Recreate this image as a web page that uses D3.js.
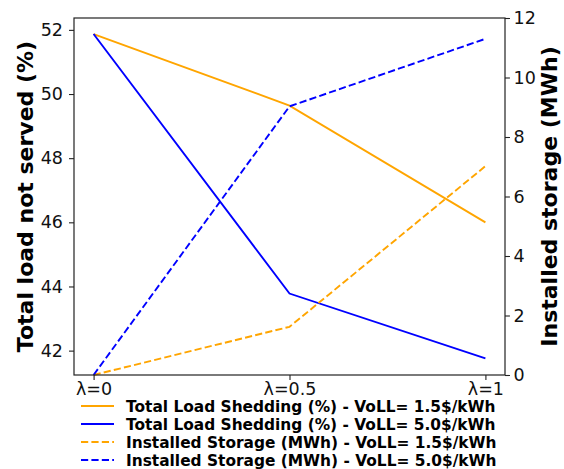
<!DOCTYPE html>
<html>
<head>
<meta charset="utf-8">
<script src="https://cdn.jsdelivr.net/npm/d3@7"></script>
<style>
    body { margin: 0; background: #fff; }
    text { font-family: "DejaVu Sans", sans-serif; }
</style>
</head>
<body>
<div id="chart"></div>
<script>
const lambdas = [0, 0.5, 1];
const tickLabels = ["λ=0", "λ=0.5", "λ=1"];
const shedLow = [51.87, 49.64, 46.0];
const shedHigh = [51.87, 43.78, 41.76];
const storLow = [0, 1.62, 7.02];
const storHigh = [0, 9.03, 11.3];
const leftTicks = [42, 44, 46, 48, 50, 52];
const rightTicks = [0, 2, 4, 6, 8, 10, 12];
const legendLabels = [
    "Total Load Shedding (%) - VoLL= 1.5$/kWh",
    "Total Load Shedding (%) - VoLL= 5.0$/kWh",
    "Installed Storage (MWh) - VoLL= 1.5$/kWh",
    "Installed Storage (MWh) - VoLL= 5.0$/kWh"
];

const W = 564, H = 469;
const margin = { top: 18, right: 59, bottom: 94, left: 74 },
    width = W - margin.left - margin.right,
    height = H - margin.top - margin.bottom;

const svg = d3.select("#chart")
    .append("svg")
    .attr("width", W)
    .attr("height", H);

const g = svg.append("g")
    .attr("transform", `translate(${margin.left},${margin.top})`);

const x = d3.scaleLinear().domain([-0.05, 1.05]).range([0, width]);
const yL = d3.scaleLinear().domain([41.24, 52.37]).range([height, 0]);
const yR = d3.scaleLinear().domain([0, 12]).range([height, 0]);

const series = [
    { vals: shedLow, scale: yL, color: "orange", dash: null },
    { vals: shedHigh, scale: yL, color: "blue", dash: null },
    { vals: storLow, scale: yR, color: "orange", dash: "7.2,3.2" },
    { vals: storHigh, scale: yR, color: "blue", dash: "7.2,3.2" }
];

series.forEach(s => {
    const line = d3.line()
        .x((d, i) => x(lambdas[i]))
        .y(d => s.scale(d));
    g.append("path")
        .datum(s.vals)
        .attr("d", line)
        .attr("fill", "none")
        .attr("stroke", s.color)
        .attr("stroke-width", 1.9)
        .attr("stroke-dasharray", s.dash);
});

// axes
const axisStyle = sel => {
    sel.select(".domain").remove();
    sel.selectAll(".tick line").attr("stroke", "#222").attr("stroke-width", 1.1);
    sel.selectAll(".tick text")
        .style("font-size", "17.5px")
        .attr("fill", "#111");
};

g.append("g")
    .attr("transform", `translate(0,${height})`)
    .call(d3.axisBottom(x).tickValues(lambdas).tickFormat((d, i) => tickLabels[i]).tickSize(5).tickPadding(3))
    .call(axisStyle);

g.append("g")
    .call(d3.axisLeft(yL).tickValues(leftTicks).tickFormat(d3.format("d")).tickSize(5).tickPadding(6))
    .call(axisStyle);

g.append("g")
    .attr("transform", `translate(${width},0)`)
    .call(d3.axisRight(yR).tickValues(rightTicks).tickFormat(d3.format("d")).tickSize(5).tickPadding(3.5))
    .call(axisStyle);

g.append("rect")
    .attr("width", width)
    .attr("height", height)
    .attr("fill", "none")
    .attr("stroke", "#222")
    .attr("stroke-width", 1.2);

// axis titles
svg.append("text")
    .attr("transform", `translate(33,${margin.top + height / 2}) rotate(-90)`)
    .attr("text-anchor", "middle")
    .style("font-size", "22px")
    .style("font-weight", "bold")
    .text("Total load not served (%)");

svg.append("text")
    .attr("transform", `translate(557,${margin.top + height / 2}) rotate(-90)`)
    .attr("text-anchor", "middle")
    .style("font-size", "22px")
    .style("font-weight", "bold")
    .text("Installed storage (MWh)");

// legend
const legend = svg.selectAll(".legend")
    .data(legendLabels)
    .enter().append("g")
    .attr("class", "legend")
    .attr("transform", (d, i) => `translate(81,${406 + i * 18})`);

legend.append("line")
    .attr("x1", 0).attr("x2", 33)
    .attr("stroke", (d, i) => series[i].color)
    .attr("stroke-width", 1.9)
    .attr("stroke-dasharray", (d, i) => series[i].dash);

legend.append("text")
    .attr("x", 45)
    .attr("y", 5.5)
    .style("font-size", "15.4px")
    .style("font-weight", "bold")
    .text(d => d);
</script>
</body>
</html>
